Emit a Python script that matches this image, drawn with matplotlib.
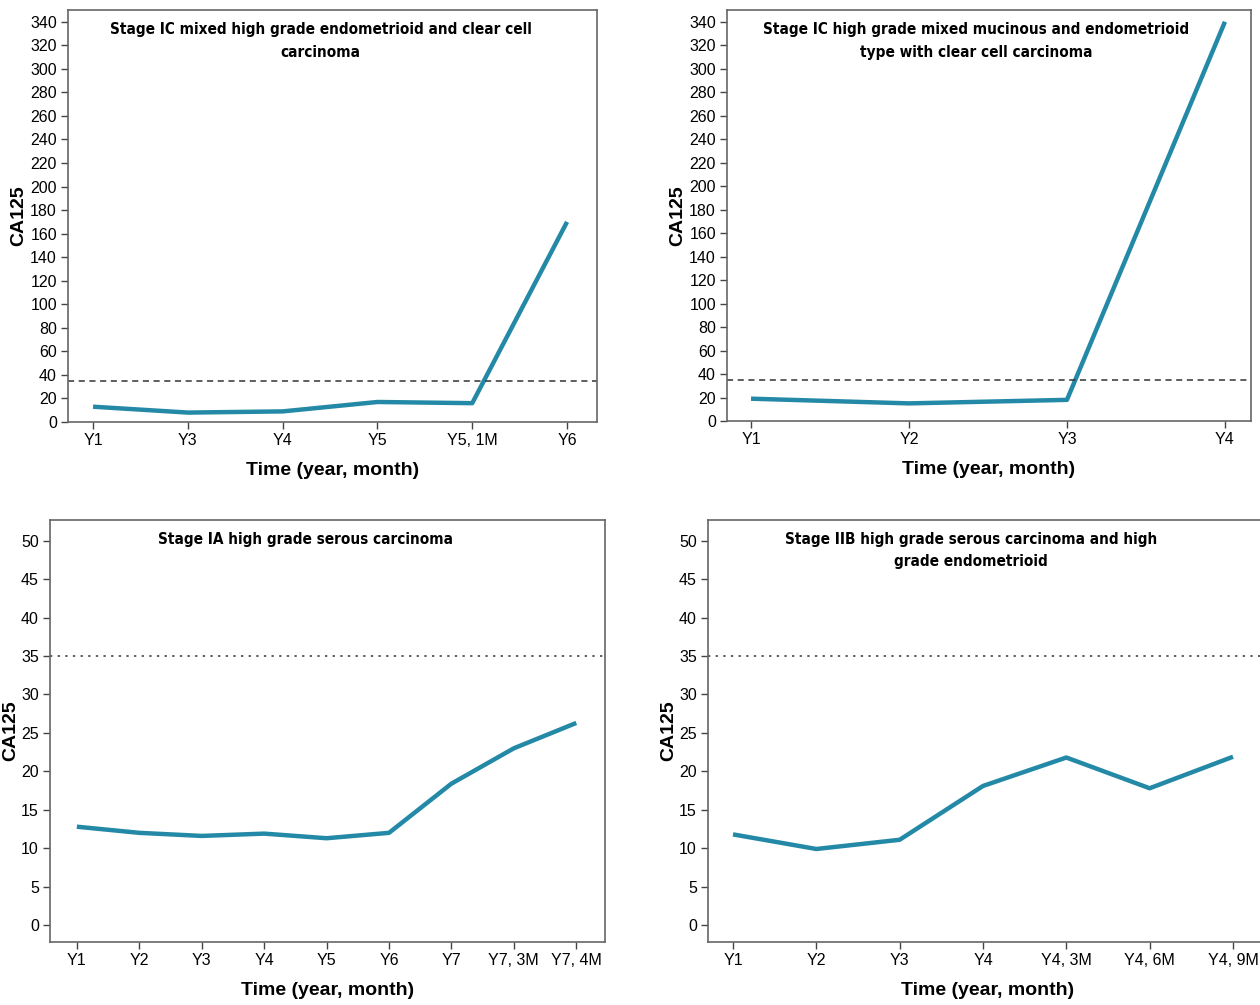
import matplotlib
matplotlib.use("Agg")
import matplotlib.pyplot as plt
from matplotlib import font_manager

plt.rcParams['font.family'] = ['Liberation Sans', 'DejaVu Sans']

# data
labels_a = ['Y1', 'Y3', 'Y4', 'Y5', 'Y5, 1M', 'Y6']
ca125_a = [13, 8, 9, 17, 16, 170]
title_a = 'Stage IC mixed high grade endometrioid and clear cell\ncarcinoma'

labels_b = ['Y1', 'Y2', 'Y3', 'Y4']
ca125_b = [19, 15, 18, 340]
title_b = 'Stage IC high grade mixed mucinous and endometrioid\ntype with clear cell carcinoma'

labels_c = ['Y1', 'Y2', 'Y3', 'Y4', 'Y5', 'Y6', 'Y7', 'Y7, 3M', 'Y7, 4M']
ca125_c = [12.8, 12.0, 11.6, 11.9, 11.3, 12.0, 18.4, 23.0, 26.3]
title_c = 'Stage IA high grade serous carcinoma'

labels_d = ['Y1', 'Y2', 'Y3', 'Y4', 'Y4, 3M', 'Y4, 6M', 'Y4, 9M']
ca125_d = [11.8, 9.9, 11.1, 18.1, 21.8, 17.8, 21.9]
title_d = 'Stage IIB high grade serous carcinoma and high\ngrade endometrioid'

cutoff = 35
line_col = '#2389a7'

# condensed bold face for the titles if there is one
cond = [f for f in font_manager.fontManager.ttflist
        if 'condensed' in f.fname.lower() and 'bold' in f.fname.lower()
        and 'oblique' not in f.fname.lower() and 'italic' not in f.fname.lower()]
if cond:
    title_font = dict(fontproperties=font_manager.FontProperties(fname=cond[0].fname, size=11))
else:
    title_font = dict(fontsize=10.5, fontweight='bold')

W, H = 1260, 1005
fig = plt.figure(figsize=(12.6, 10.05), dpi=100)


def box(l, t, r, b):
    # pixel box -> figure fraction
    return [l / W, 1 - b / H, (r - l) / W, (b - t) / H]


def panel(px, labels, vals, title, ylim, yticks, xpad, ls, title_xy, ylab_x):
    ax = fig.add_axes(box(*px))
    x = list(range(len(labels)))
    ax.plot(x, vals, color=line_col, lw=3.2, solid_capstyle='butt')
    ax.axhline(cutoff, color='#333333', lw=1.1, ls=ls)
    ax.set_xlim(-xpad[0], len(labels) - 1 + xpad[1])
    ax.set_ylim(*ylim)
    ax.set_yticks(yticks)
    ax.set_xticks(x)
    ax.set_xticklabels(labels)
    ax.tick_params(direction='out', length=5, width=1, color='#444444',
                   labelsize=11.5, pad=3)
    for s in ax.spines.values():
        s.set_color('#666666')
        s.set_linewidth(1.2)
    ax.set_ylabel('CA125', fontsize=14, fontweight='bold')
    ax.yaxis.set_label_coords((ylab_x - px[0]) / (px[2] - px[0]), 0.5)
    ax.set_xlabel('Time (year, month)', fontsize=14, fontweight='bold', labelpad=10)
    ax.text(title_xy[0], title_xy[1], title, transform=ax.transAxes,
            ha='center', va='top', linespacing=1.6, **title_font)
    return ax


panel((68, 10, 597, 422), labels_a, ca125_a, title_a, (0, 350),
      range(0, 341, 20), (0.264, 0.316), (0, (4, 3)), (0.478, 0.97), 27)
panel((727, 10, 1251, 421), labels_b, ca125_b, title_b, (0, 350),
      range(0, 341, 20), (0.152, 0.165), (0, (4, 3)), (0.475, 0.97), 686)
panel((50, 520, 605, 942), labels_c, ca125_c, title_c, (-2.2, 52.7),
      range(0, 51, 5), (0.43, 0.46), (0, (1.5, 3.5)), (0.46, 0.972), 19)
panel((708, 520, 1268, 942), labels_d, ca125_d, title_d, (-2.2, 52.7),
      range(0, 51, 5), (0.3, 0.42), (0, (1.5, 3.5)), (0.47, 0.972), 677)

fig.savefig('out.png', dpi=100, facecolor='white')
